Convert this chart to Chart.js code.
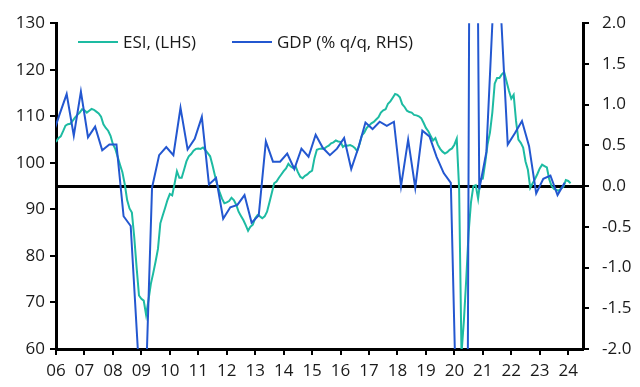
<!DOCTYPE html>
<html lang="en">
<head>
    <meta charset="UTF-8" />
    <title>ESI vs GDP</title>
    <script src="https://cdn.jsdelivr.net/npm/chart.js"></script>
    <style>
        html, body { margin: 0; padding: 0; background: #fff; }
        #wrap { width: 640px; height: 387px; position: relative; }
    </style>
</head>
<body>
<div id="wrap">
    <canvas id="esiChart" width="640" height="387"></canvas>
</div>

<script>
// ESI, monthly, starting Jan 2006 (LHS)
const esiStartYear = 2006;
const esi = [
    104.5, 105.3, 105.7, 106.8, 108.0, 108.3, 108.4, 109.0, 109.7, 110.3, 110.8, 111.5, // 06
    111.3, 110.8, 111.2, 111.6, 111.4, 111.0, 110.6, 109.9, 108.3, 107.5, 106.9, 105.8, // 07
    104.0, 103.0, 101.3, 99.6, 98.0, 95.4, 92.0, 90.2, 89.3, 84.0, 77.5, 71.5,           // 08
    70.8, 70.4, 67.3, 70.5, 74.0, 76.3, 78.8, 81.5, 87.0, 88.7, 90.3, 92.0,              // 09
    93.3, 93.0, 95.5, 98.2, 96.8, 96.8, 98.5, 100.3, 101.4, 101.9, 102.6, 103.0,         // 10
    103.1, 103.0, 103.3, 102.7, 102.1, 101.4, 99.5, 97.3, 95.3, 93.7, 92.3, 91.3,        // 11
    91.5, 91.8, 92.5, 92.0, 91.0, 89.5, 88.6, 87.7, 86.6, 85.4, 86.3, 86.7,              // 12
    88.1, 88.8, 88.5, 88.1, 88.5, 89.5, 91.5, 93.5, 95.6, 96.0, 96.8, 97.5,              // 13
    98.2, 98.8, 99.8, 99.2, 98.9, 99.3, 98.0, 97.0, 96.7, 97.2, 97.5, 98.0,              // 14
    98.3, 101.0, 102.8, 103.0, 103.1, 103.0, 103.4, 103.7, 104.2, 104.4, 104.8, 104.6,   // 15
    104.5, 103.4, 103.8, 103.7, 103.8, 103.6, 103.2, 102.5, 104.0, 105.9, 106.5, 107.5,  // 16
    108.0, 108.5, 108.8, 109.3, 109.8, 110.8, 111.3, 111.5, 112.7, 113.2, 114.0, 114.8,  // 17
    114.6, 114.1, 112.6, 112.0, 111.2, 110.9, 110.8, 110.3, 110.2, 110.0, 109.6, 108.6,  // 18
    107.5, 106.8, 105.8, 104.8, 105.3, 103.9, 103.0, 102.4, 102.0, 102.3, 102.8, 103.1,  // 19
    103.9, 105.2, 94.5, 59.0, 66.0, 75.0, 85.0, 91.5, 95.0, 95.2, 92.3, 96.5,            // 20
    96.6, 100.0, 104.0, 106.5, 110.8, 117.0, 118.2, 118.2, 119.0, 119.5, 117.5, 115.5,   // 21
    113.8, 114.6, 109.0, 105.0, 104.3, 103.3, 100.3, 98.5, 94.6, 95.6, 96.5, 97.6,       // 22
    98.8, 99.6, 99.3, 99.0, 96.5, 95.0, 94.4, 94.2, 94.0, 94.5, 94.9, 96.3,              // 23
    96.1, 95.6                                                                          // 24
];

// GDP % q/q, quarterly, starting Q4 2005 (RHS)
const gdpStartYear = 2005.75;
const gdp = [
    0.62,                      // 05 Q4
    0.88, 1.13, 0.62, 1.16,    // 06
    0.60, 0.73, 0.44, 0.51,    // 07
    0.51, -0.37, -0.49, -2.0,  // 08
    -2.8, -0.02, 0.38, 0.48,   // 09
    0.38, 0.96, 0.45, 0.58,    // 10
    0.85, 0.02, 0.10, -0.40,   // 11
    -0.26, -0.23, -0.11, -0.45,// 12
    -0.36, 0.55, 0.30, 0.30,   // 13
    0.40, 0.21, 0.46, 0.36,    // 14
    0.63, 0.47, 0.38, 0.46,    // 15
    0.59, 0.21, 0.47, 0.78,    // 16
    0.70, 0.79, 0.74, 0.79,    // 17
    0.00, 0.57, -0.02, 0.68,   // 18
    0.61, 0.36, 0.16, 0.04,    // 19
    -3.6, -11.2, 12.0, -0.04,  // 20
    0.42, 2.3, 2.2, 0.51,      // 21
    0.65, 0.80, 0.49, -0.09,   // 22
    0.09, 0.13, -0.11, 0.04    // 23
];

const labels = ['ESI, (LHS)', 'GDP (% q/q, RHS)'];
const colors = ['#1dbba2', '#2357d0'];

// x positions: months at month start, quarters at mid-quarter
const esiPoints = esi.map((v, i) => ({ x: esiStartYear + i / 12, y: v }));
const gdpPoints = gdp.map((v, i) => ({ x: gdpStartYear + 0.125 + i * 0.25, y: v }));

const FONT = { family: "'Open Sans', sans-serif", size: 17 };
const INK = '#1a1a1a';

// black zero line on the RHS scale
const zeroLine = {
    id: 'zeroLine',
    beforeDatasetsDraw(chart) {
        const { ctx, chartArea } = chart;
        const y = Math.round(chart.scales.y1.getPixelForValue(0)) + 0.5;
        ctx.save();
        ctx.strokeStyle = '#000';
        ctx.lineWidth = 3;
        ctx.beginPath();
        ctx.moveTo(chartArea.left, y);
        ctx.lineTo(chartArea.right, y);
        ctx.stroke();
        ctx.restore();
    }
};

// legend inside the plot, top left
const topLegend = {
    id: 'topLegend',
    afterDraw(chart) {
        const ctx = chart.ctx;
        const items = [{ x: 78 }, { x: 232 }];
        ctx.save();
        ctx.font = `${FONT.size}px ${FONT.family}`;
        ctx.textBaseline = 'middle';
        ctx.fillStyle = INK;
        items.forEach((it, i) => {
            const y = 42;
            ctx.strokeStyle = colors[i];
            ctx.lineWidth = 2;
            ctx.beginPath();
            ctx.moveTo(it.x, y);
            ctx.lineTo(it.x + 40, y);
            ctx.stroke();
            ctx.fillText(labels[i], it.x + 45, y + 1);
        });
        ctx.restore();
    }
};

const axisGrid = { display: true, drawOnChartArea: false, drawTicks: true, tickLength: 6, color: '#000', lineWidth: 2 };
const axisBorder = { display: true, color: '#000', width: 3 };

new Chart(document.getElementById('esiChart'), {
    type: 'line',
    data: {
        datasets: [{
            label: labels[0],
            data: esiPoints,
            yAxisID: 'y',
            borderColor: colors[0],
            borderWidth: 2,
            pointRadius: 0,
            tension: 0,
            order: 2
        }, {
            label: labels[1],
            data: gdpPoints,
            yAxisID: 'y1',
            borderColor: colors[1],
            borderWidth: 2,
            pointRadius: 0,
            tension: 0,
            order: 1
        }]
    },
    options: {
        responsive: false,
        animation: false,
        layout: { padding: { top: 15, left: 0, right: 0, bottom: 0 } },
        plugins: {
            legend: { display: false },
            tooltip: { enabled: false }
        },
        scales: {
            x: {
                type: 'linear',
                min: 2006,
                max: 2024.52,
                grid: axisGrid,
                border: axisBorder,
                ticks: {
                    stepSize: 1,
                    includeBounds: false,
                    autoSkip: false,
                    maxRotation: 0,
                    padding: 6,
                    color: INK,
                    font: FONT,
                    callback: v => String(v % 100).padStart(2, '0')
                },
                afterFit: s => { s.height = 38; }
            },
            y: {
                position: 'left',
                min: 60,
                max: 130,
                grid: axisGrid,
                border: axisBorder,
                ticks: { stepSize: 10, padding: 5, color: INK, font: FONT },
                afterFit: s => { s.width = 56; }
            },
            y1: {
                position: 'right',
                min: -2,
                max: 2,
                grid: axisGrid,
                border: axisBorder,
                ticks: {
                    stepSize: 0.5,
                    padding: 13,
                    color: INK,
                    font: FONT,
                    callback: v => v.toFixed(1)
                },
                afterFit: s => { s.width = 57; }
            }
        }
    },
    plugins: [zeroLine, topLegend]
});
</script>
</body>
</html>
